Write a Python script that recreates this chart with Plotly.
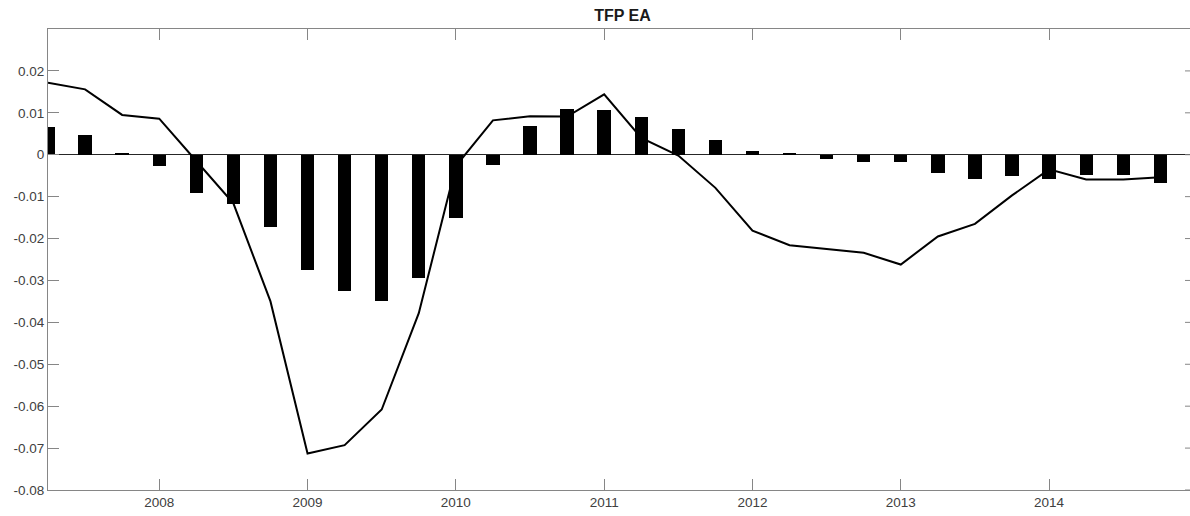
import plotly.graph_objects as go

# Quarterly observation dates (decimal years)
quarters = [
    2007.25, 2007.50, 2007.75,
    2008.00, 2008.25, 2008.50, 2008.75,
    2009.00, 2009.25, 2009.50, 2009.75,
    2010.00, 2010.25, 2010.50, 2010.75,
    2011.00, 2011.25, 2011.50, 2011.75,
    2012.00, 2012.25, 2012.50, 2012.75,
    2013.00, 2013.25, 2013.50, 2013.75,
    2014.00, 2014.25, 2014.50, 2014.75,
]

# Quarterly TFP contribution (bars)
tfp_bars = [
    0.0066, 0.0046, 0.0004,
    -0.0028, -0.0091, -0.0117, -0.0173,
    -0.0274, -0.0324, -0.0350, -0.0293,
    -0.0152, -0.0024, 0.0068, 0.0108,
    0.0106, 0.0090, 0.0062, 0.0034,
    0.0009, 0.0004, -0.0011, -0.0018,
    -0.0017, -0.0043, -0.0057, -0.0051,
    -0.0059, -0.0049, -0.0048, -0.0067,
]

# Year-on-year TFP growth (line)
tfp_line = [
    0.0172, 0.0156, 0.0095,
    0.0086, -0.0015, -0.0116, -0.0350,
    -0.0713, -0.0693, -0.0608, -0.0378,
    -0.0027, 0.0082, 0.0092, 0.0091,
    0.0144, 0.0040, -0.0002, -0.0079,
    -0.0181, -0.0216, -0.0225, -0.0234,
    -0.0262, -0.0195, -0.0165, -0.0097,
    -0.0035, -0.0059, -0.0059, -0.0054,
]

x_tick_vals = [2008, 2009, 2010, 2011, 2012, 2013, 2014]
x_tick_text = ["2008", "2009", "2010", "2011", "2012", "2013", "2014"]
y_tick_vals = [-0.08, -0.07, -0.06, -0.05, -0.04, -0.03, -0.02, -0.01, 0, 0.01, 0.02]
y_tick_text = ["-0.08", "-0.07", "-0.06", "-0.05", "-0.04", "-0.03", "-0.02",
               "-0.01", "0", "0.01", "0.02"]

X_RANGE = [2007.25, 2014.95]
Y_RANGE = [-0.08, 0.03]
AXIS_COLOR = "#868686"
TEXT_COLOR = "#404040"
FONT = "Liberation Sans, Arial, Helvetica, sans-serif"

fig = go.Figure()
fig.add_trace(go.Bar(
    x=quarters, y=tfp_bars, width=0.09,
    marker=dict(color="black", line=dict(width=0)),
    showlegend=False, hoverinfo="x+y",
))
fig.add_trace(go.Scatter(
    x=quarters, y=tfp_line, mode="lines",
    line=dict(color="black", width=2),
    showlegend=False, cliponaxis=True,
))

# Short inward ticks along the right-hand side of the box
shapes = []
for v in y_tick_vals:
    shapes.append(dict(
        type="line", xref="x", yref="y",
        xsizemode="pixel", xanchor=X_RANGE[1], x0=-5, x1=0,
        y0=v, y1=v, line=dict(color=AXIS_COLOR, width=1), layer="above",
    ))

fig.update_layout(
    width=1190, height=516,
    margin=dict(l=48, r=0, t=29, b=26),
    paper_bgcolor="white", plot_bgcolor="white",
    font=dict(family=FONT, size=13.5, color=TEXT_COLOR),
    title=dict(
        text="<b>TFP EA</b>", xref="container", yref="container",
        x=622.5 / 1190, y=1 - 15 / 516, xanchor="center", yanchor="middle",
        font=dict(family=FONT, size=16, color="#1a1a1a"),
    ),
    bargap=0,
    shapes=shapes,
    xaxis=dict(
        range=X_RANGE, tickvals=x_tick_vals, ticktext=x_tick_text,
        ticks="inside", ticklen=11, tickwidth=1, tickcolor=AXIS_COLOR,
        showline=True, linecolor=AXIS_COLOR, linewidth=1, mirror="ticks",
        showgrid=False, zeroline=False,
    ),
    yaxis=dict(
        range=Y_RANGE, tickvals=y_tick_vals, ticktext=y_tick_text,
        ticks="inside", ticklen=11, tickwidth=1, tickcolor=AXIS_COLOR,
        showline=True, linecolor=AXIS_COLOR, linewidth=1, mirror=False,
        showgrid=False, zeroline=True, zerolinecolor="#262626", zerolinewidth=1,
    ),
)

fig.write_html("out.html")
